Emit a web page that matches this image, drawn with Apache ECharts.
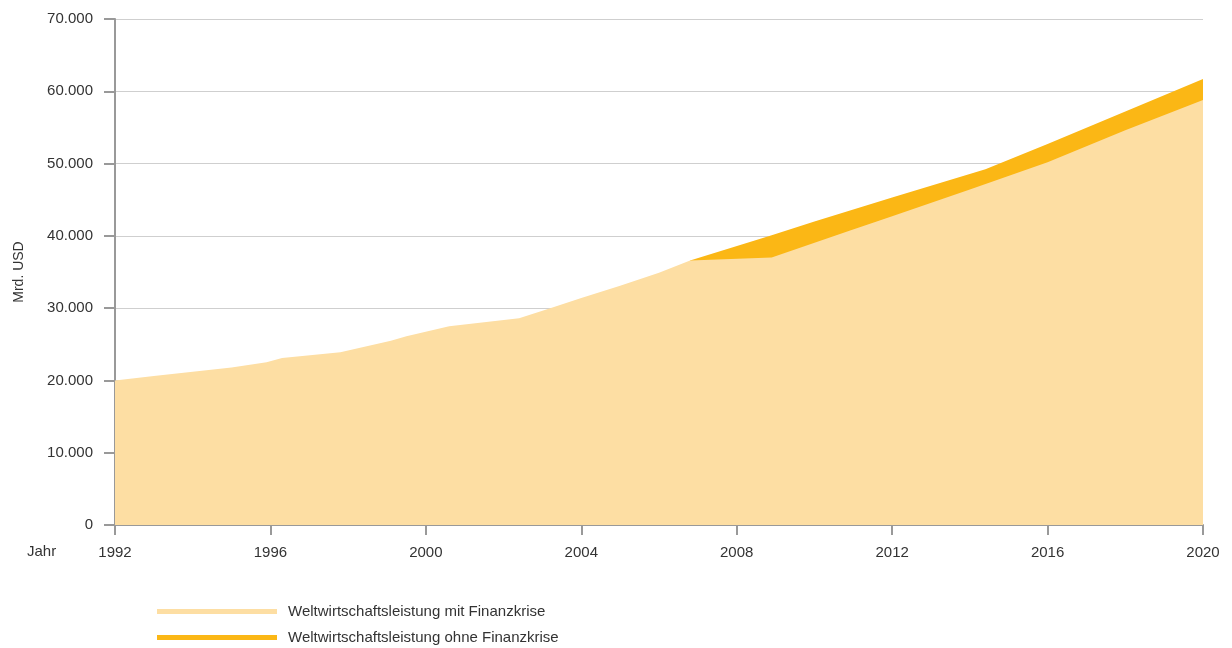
<!DOCTYPE html>
<html><head><meta charset="utf-8">
<script src="https://cdn.jsdelivr.net/npm/echarts@6/dist/echarts.min.js"></script>
<style>html,body{margin:0;padding:0;background:#fff}#c{width:1232px;height:648px}</style>
</head><body><div id="c"></div>
<script>
const seriesNames = ['Weltwirtschaftsleistung mit Finanzkrise', 'Weltwirtschaftsleistung ohne Finanzkrise'];
const mitYears = [1992, 1993, 1994, 1995, 1995.9, 1996.3, 1997.8, 1999.1, 1999.5, 2000.6, 2002.4, 2003.2, 2004, 2005, 2006, 2006.8, 2008.9, 2010.9, 2012, 2014, 2016, 2018, 2020];
const mitValues = [20000, 20600, 21200, 21800, 22500, 23100, 23900, 25500, 26100, 27500, 28600, 30000, 31400, 33100, 34900, 36600, 37000, 40700, 42700, 46400, 50200, 54600, 58800];
const ohneYears = [2006.8, 2008.9, 2010, 2012, 2014.4, 2016, 2018, 2020];
const ohneValues = [36600, 40100, 42000, 45300, 49200, 52700, 57200, 61700];
const yTicks = [0, 10000, 20000, 30000, 40000, 50000, 60000, 70000];
const xTicks = [1992, 1996, 2000, 2004, 2008, 2012, 2016, 2020];

const font = '"Liberation Sans", Arial, sans-serif';
const chart = echarts.init(document.getElementById('c'), null, {renderer: 'canvas'});
const fmt = v => String(v).replace(/\B(?=(\d{3})+(?!\d))/g, '.');
const legendBase = {
  orient: 'vertical', left: 157, padding: 0, itemWidth: 120, itemHeight: 5, itemGap: 10,
  icon: 'rect', textStyle: {color: '#333', fontSize: 15, fontFamily: font, padding: [3, 0, 0, 6]}
};
chart.setOption({
  animation: false,
  grid: {left: 115, right: 29, top: 19, bottom: 123},
  xAxis: {
    type: 'value', min: xTicks[0], max: xTicks[xTicks.length - 1], interval: 4,
    axisLine: {show: true, onZero: false, lineStyle: {color: '#999', width: 2}},
    axisTick: {show: true, length: 10, lineStyle: {color: '#999', width: 2}},
    axisLabel: {margin: 20, color: '#333', fontSize: 15, fontFamily: font, formatter: v => String(v)},
    splitLine: {show: false}
  },
  yAxis: {
    type: 'value', min: yTicks[0], max: yTicks[yTicks.length - 1], interval: 10000,
    name: 'Mrd. USD', nameLocation: 'middle', nameGap: 89, nameRotate: 90,
    nameTextStyle: {color: '#333', fontSize: 14, fontFamily: font},
    axisLine: {show: true, lineStyle: {color: '#999', width: 2}},
    axisTick: {show: true, length: 11, lineStyle: {color: '#999', width: 2}},
    axisLabel: {margin: 22, color: '#333', fontSize: 15, fontFamily: font, formatter: fmt},
    splitLine: {show: true, lineStyle: {color: '#cfcfcf', width: 1}}
  },
  legend: [
    Object.assign({}, legendBase, {top: 604, data: [seriesNames[0]]}),
    Object.assign({}, legendBase, {top: 630, data: [seriesNames[1]]})
  ],
  graphic: [{type: 'text', left: 27, top: 544, style: {text: 'Jahr', fill: '#333', font: '15px ' + font}}],
  series: [
    {name: seriesNames[1], type: 'line', color: '#FBB715', showSymbol: false, symbol: 'none',
     lineStyle: {width: 0}, areaStyle: {color: '#FBB715', opacity: 1}, z: 2,
     data: ohneYears.map((y, i) => [y, ohneValues[i]])},
    {name: seriesNames[0], type: 'line', color: '#FDDEA3', showSymbol: false, symbol: 'none',
     lineStyle: {width: 0}, areaStyle: {color: '#FDDEA3', opacity: 1}, z: 3,
     data: mitYears.map((y, i) => [y, mitValues[i]])}
  ]
});
</script></body></html>
